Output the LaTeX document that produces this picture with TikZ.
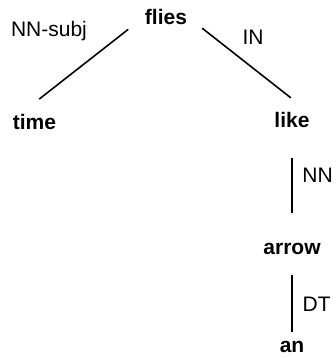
\documentclass[tikz,border=0pt]{standalone}
\usepackage{fontspec}
\setmainfont{Liberation Sans}
\usetikzlibrary{positioning}

\begin{document}
\begin{tikzpicture}
	[x=1pt, y=-1pt, font=\fontsize{21}{25}\selectfont,
	% STYLES
	% The word style is used to draw the words of the sentence
	word/.style={inner sep=0pt, outer sep=0pt, anchor=base, font=\fontsize{21}{25}\selectfont\bfseries},
	% The rel style is used to draw the names of the relations
	rel/.style={inner sep=0pt, outer sep=0pt, anchor=base},
	% The link style is used for the lines between words
	link/.style={draw, line width=1.6pt}]
	\useasboundingbox (0,0) rectangle (335,358);
	
	% words, root on top
	\node [word] (flies) at (166,25) {flies};
	%left
	\node [word] (time) at (34.5,130) {time};
	%right, going down
	\node [word] (like) at (292,128) {like};
	\node [word] (arrow) at (292,254) {arrow};
	\node [word] (an) at (292,352) {an};
	% names of the relations
	\node [rel] (subj) at (49,37) {NN-subj};
	\node [rel] (in) at (253,45) {IN};
	\node [rel] (nn) at (317.5,182) {NN};
	\node [rel] (dt) at (316.7,311) {DT};
	% Draw the links between the words
	\path[link]
	([yshift=10pt]flies.north) edge [shorten <=48pt, shorten >=6pt] ([yshift=12pt]time.north)
	([yshift=10pt]flies.north) edge [shorten <=46pt, shorten >=1.5pt] ([yshift=14pt]like.north)
	(like.south) edge [shorten <=30pt, shorten >=30pt] (arrow.north)
	(arrow.south) edge [shorten <=21pt, shorten >=9pt] (an.north);
	
\end{tikzpicture}
\end{document}
